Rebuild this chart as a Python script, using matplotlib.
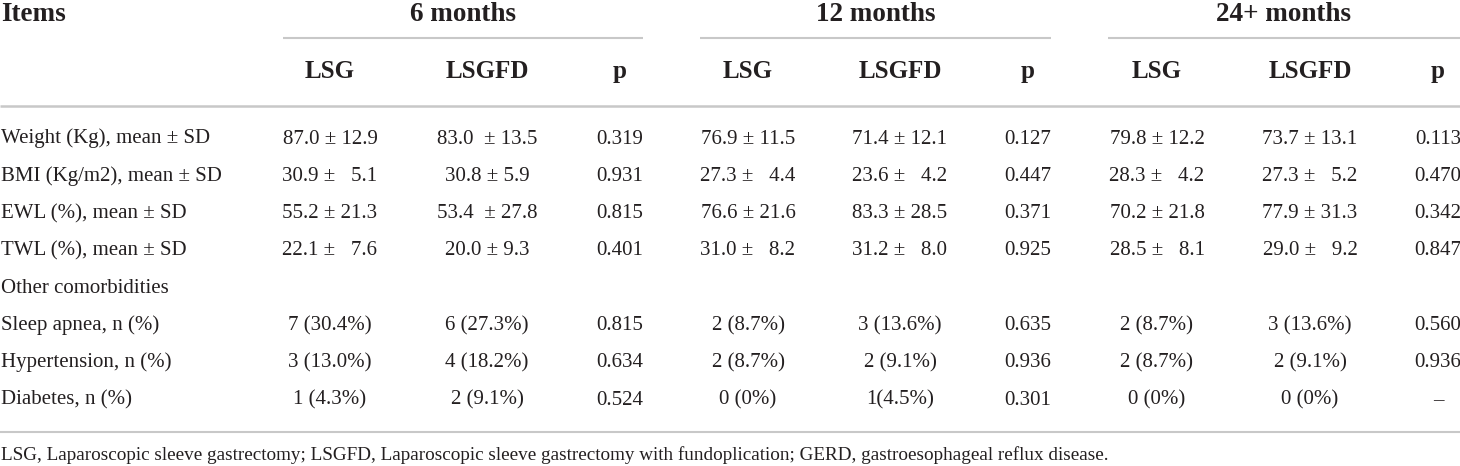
import matplotlib.pyplot as plt

plt.rcParams['font.family'] = ['Liberation Serif', 'DejaVu Serif']

# table content
periods = ["6 months", "12 months", "24+ months"]
groups = ["LSG", "LSGFD", "p"]
items = ["Weight (Kg), mean ± SD", "BMI (Kg/m2), mean ± SD", "EWL (%), mean ± SD",
         "TWL (%), mean ± SD", "Other comorbidities", "Sleep apnea, n (%)",
         "Hypertension, n (%)", "Diabetes, n (%)"]

lsg_6m = ["87.0 ± 12.9", "30.9 ±   5.1", "55.2 ± 21.3", "22.1 ±   7.6", "",
          "7 (30.4%)", "3 (13.0%)", "1 (4.3%)"]
lsgfd_6m = ["83.0  ± 13.5", "30.8 ± 5.9", "53.4  ± 27.8", "20.0 ± 9.3", "",
            "6 (27.3%)", "4 (18.2%)", "2 (9.1%)"]
p_6m = ["0.319", "0.931", "0.815", "0.401", "", "0.815", "0.634", "0.524"]

lsg_12m = ["76.9 ± 11.5", "27.3 ±   4.4", "76.6 ± 21.6", "31.0 ±   8.2", "",
           "2 (8.7%)", "2 (8.7%)", "0 (0%)"]
lsgfd_12m = ["71.4 ± 12.1", "23.6 ±   4.2", "83.3 ± 28.5", "31.2 ±   8.0", "",
             "3 (13.6%)", "2 (9.1%)", "1(4.5%)"]
p_12m = ["0.127", "0.447", "0.371", "0.925", "", "0.635", "0.936", "0.301"]

lsg_24m = ["79.8 ± 12.2", "28.3 ±   4.2", "70.2 ± 21.8", "28.5 ±   8.1", "",
           "2 (8.7%)", "2 (8.7%)", "0 (0%)"]
lsgfd_24m = ["73.7 ± 13.1", "27.3 ±   5.2", "77.9 ± 31.3", "29.0 ±   9.2", "",
             "3 (13.6%)", "2 (9.1%)", "0 (0%)"]
p_24m = ["0.113", "0.470", "0.342", "0.847", "", "0.560", "0.936", "–"]

footnote = ("LSG, Laparoscopic sleeve gastrectomy; LSGFD, Laparoscopic sleeve "
            "gastrectomy with fundoplication; GERD, gastroesophageal reflux disease.")

columns = [lsg_6m, lsgfd_6m, p_6m, lsg_12m, lsgfd_12m, p_12m, lsg_24m, lsgfd_24m, p_24m]

# layout (pixel coords, y = baselines)
W, H = 1460, 466
col_x = [330, 487, 620, 748, 900, 1028, 1157, 1310, 1438]
span_x = [(283, 643), (700, 1051), (1108, 1460)]
row_y0, row_dy = 143.5, 37.3
txt = '#231f20'
rule = '#c8c8c8'

fig = plt.figure(figsize=(W / 100, H / 100), dpi=100)
ax = fig.add_axes([0, 0, 1, 1])
ax.set_xlim(0, W)
ax.set_ylim(H, 0)
ax.axis('off')

# header
ax.text(1, 21, "Items", fontsize=19.5, weight='bold', color=txt, ha='left', va='baseline')
for k, name in enumerate(periods):
    x0, x1 = span_x[k]
    ax.text((x0 + x1) / 2, 21, name, fontsize=19.5, weight='bold', color=txt,
            ha='center', va='baseline')
    ax.plot([x0, x1], [38, 38], color=rule, lw=1.5, solid_capstyle='butt')
    for j, g in enumerate(groups):
        ax.text(col_x[3 * k + j], 78, g, fontsize=18, weight='bold', color=txt,
                ha='center', va='baseline')
ax.plot([0, W], [106, 106], color=rule, lw=1.8, solid_capstyle='butt')

# body
for i, label in enumerate(items):
    y = row_y0 + i * row_dy
    ax.text(1, y, label, fontsize=15, color=txt, ha='left', va='baseline')
    for c, col in enumerate(columns):
        if col[i]:
            ax.text(col_x[c], y, col[i], fontsize=15, color=txt, ha='center', va='baseline')

ax.plot([0, W], [432, 432], color=rule, lw=1.5, solid_capstyle='butt')
ax.text(1, 460.5, footnote, fontsize=13.8, color=txt, ha='left', va='baseline')

fig.savefig("out.png", dpi=100)
